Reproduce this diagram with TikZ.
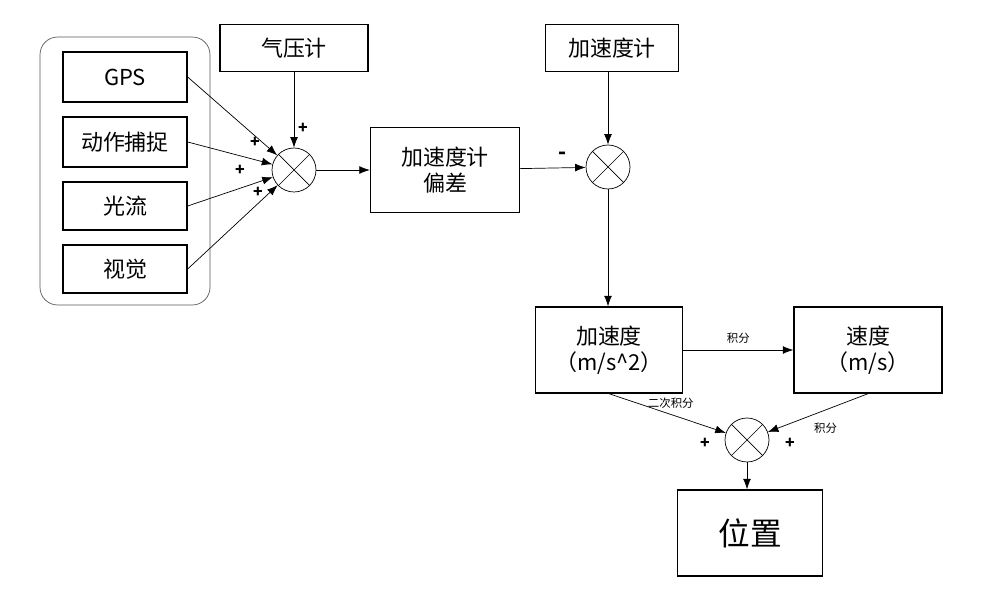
\documentclass[tikz,border=0pt]{standalone}
\usepackage{fontspec}
\setmainfont{Noto Sans CJK SC}
\usetikzlibrary{arrows.meta}
\begin{document}
\begin{tikzpicture}[x=0.02cm,y=-0.02cm,
  box/.style={draw,thick,font=\fontsize{12.5}{15}\selectfont,align=center,inner sep=0pt},
  sum/.style={draw,circle,minimum size=0.88cm,inner sep=0pt,path picture={\draw (path picture bounding box.north west)--(path picture bounding box.south east) (path picture bounding box.north east)--(path picture bounding box.south west);}},
  arr/.style={-{Latex[length=6pt,width=4.5pt]}},
  sm/.style={font=\fontsize{6.5}{8}\selectfont},
  pm/.style={font=\bfseries\fontsize{9}{10}\selectfont}]
\useasboundingbox (0,0) rectangle (1002,594);
\node[draw,gray!70!black,rounded corners=10pt,minimum width=3.4cm,minimum height=5.36cm] (grp) at (125,171) {};
\node[box,minimum width=2.48cm,minimum height=1cm] (gps) at (125,77) {GPS};
\node[box,minimum width=2.48cm,minimum height=1cm] (mc) at (125,142) {动作捕捉};
\node[box,minimum width=2.48cm,minimum height=0.96cm] (of) at (125,206) {光流};
\node[box,minimum width=2.48cm,minimum height=0.96cm] (vis) at (125,269) {视觉};
\node[box,minimum width=2.96cm,minimum height=0.94cm] (baro) at (294,48) {气压计};
\node[sum] (s1) at (294,170) {};
\node[box,minimum width=2.98cm,minimum height=1.7cm] (bias) at (445,170) {加速度计\\偏差};
\node[sum] (s2) at (608,167) {};
\node[box,minimum width=2.66cm,minimum height=0.94cm] (acc) at (612,48) {加速度计};
\node[box,minimum width=2.94cm,minimum height=1.72cm] (a) at (609,350) {加速度\\（m/s\textasciicircum2）};
\node[box,minimum width=2.96cm,minimum height=1.72cm] (v) at (868,350) {速度\\（m/s）};
\node[sum] (s3) at (747,440) {};
\node[box,minimum width=2.9cm,minimum height=1.72cm,font=\fontsize{18}{20}\selectfont] (pos) at (750,533) {位置};
\draw[arr] (gps.east) -- (s1);
\draw[arr] (mc.east) -- (s1);
\draw[arr] (of.east) -- (s1);
\draw[arr] (vis.east) -- (s1);
\draw[arr] (baro) -- (s1);
\node[pm] at (255,142) {+};
\node[pm] at (240,170) {+};
\node[pm] at (258,192) {+};
\node[pm] at (303,128) {+};
\draw[arr] (s1) -- (bias);
\draw[arr] (bias) -- node[pm,pos=0.65,above=1pt,font=\bfseries\fontsize{12}{12}\selectfont]{-} (s2);
\draw[arr] (acc.south -| s2) -- (s2);
\draw[arr] (s2) -- (s2 |- a.north);
\draw[arr] (a) -- node[sm,above]{积分} (v);
\draw[arr] (a.south) -- node[sm,pos=0.25,right=2pt]{二次积分} (s3);
\draw[arr] (v.south) -- node[sm,pos=0.6,below right=0pt]{积分} (s3);
\node[pm] at (705,443) {+};
\node[pm] at (790,443) {+};
\draw[arr] (s3) -- (s3 |- pos.north);
\end{tikzpicture}
\end{document}
